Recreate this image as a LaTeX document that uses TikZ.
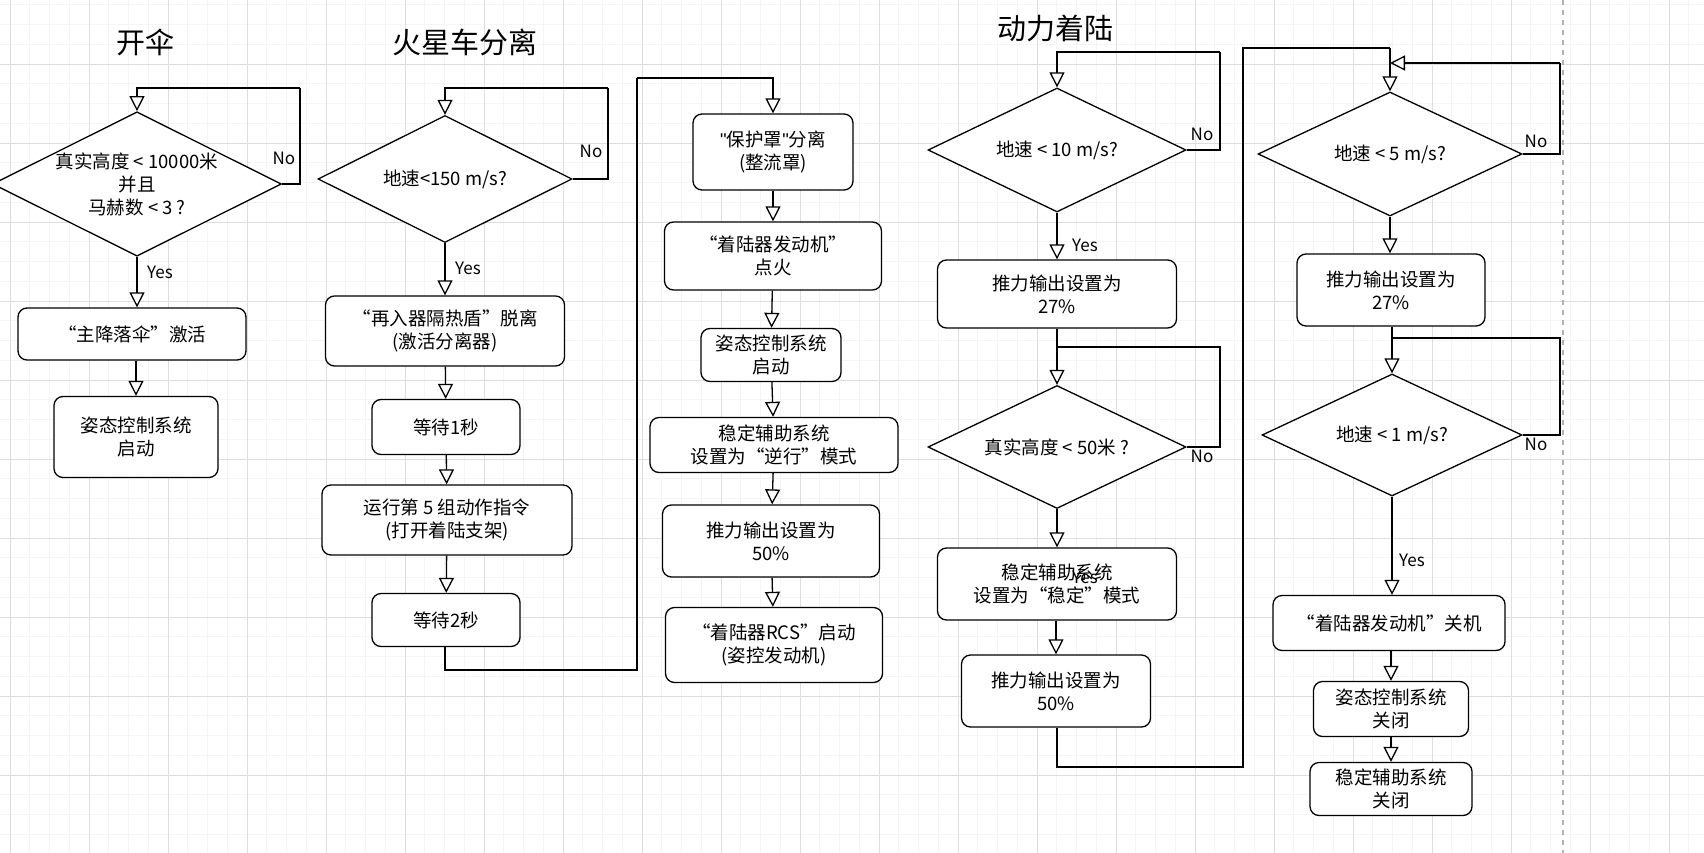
\documentclass[tikz,border=0pt]{standalone}
\usepackage{fontspec}
\setmainfont{Noto Sans CJK SC}
\newfontfamily\latq{Liberation Sans}
\usetikzlibrary{arrows.meta,shapes.geometric}
\begin{document}
\begin{tikzpicture}[x=1pt,y=-1pt,
  box/.style={draw,line width=1.3pt,rounded corners=9pt,fill=white,align=center,font=\fontsize{18.5}{23}\selectfont,inner sep=0pt},
  dia/.style={draw,line width=1.3pt,diamond,fill=white,align=center,font=\fontsize{18.5}{23}\selectfont,inner sep=0pt,aspect=2},
  ar/.style={line width=1.3pt,-{Triangle[open,length=15pt,width=15pt,fill=white]}},
  ln/.style={line width=1.3pt},
  lab/.style={font=\fontsize{17}{19}\selectfont},
  ttl/.style={font=\fontsize{29}{32}\selectfont}]
\useasboundingbox (0,0) rectangle (1704,853);
\fill[white] (0,0) rectangle (1704,853);
\foreach \i in {0,...,86} {\draw[black!4,line width=0.6pt] ({10+\i*19.75},0) -- ({10+\i*19.75},853);}
\foreach \i in {0,...,44} {\draw[black!4,line width=0.6pt] (0,{-15+\i*19.75}) -- (1704,{-15+\i*19.75});}
\foreach \i in {0,...,21} {\draw[black!13,line width=0.8pt] ({10+\i*79},0) -- ({10+\i*79},853);}
\foreach \i in {0,...,11} {\draw[black!13,line width=0.8pt] (0,{-15+\i*79}) -- (1704,{-15+\i*79});}
\draw[black!30,line width=1.2pt,dash pattern=on 5pt off 5pt] (1563,0) -- (1563,853);
% titles
\node[ttl] (t1) at (145,42) {开伞};
\node[ttl] (t2) at (465,42) {火星车分离};
\node[ttl] (t4) at (1055,28) {动力着陆};
% column 1
\node[dia,minimum width=254pt,minimum height=124pt] (d1) at (137,184) {真实高度 < 10000米\\并且\\马赫数 < 3 ?};
\node[box,minimum width=228pt,minimum height=52pt] (b1) at (132,334) {“主降落伞”激活};
\node[box,minimum width=164pt,minimum height=81pt] (b2) at (136,437) {姿态控制系统\\启动};
\coordinate (c1a) at (300,88);
\draw[ln] (d1.east) -| (c1a);
\draw[ar] (c1a) -| (d1.north);
\draw[ar] (d1.south) -- (b1.north -| d1.south);
\draw[ar] (b1.south -| b2.north) -- (b2.north);
\node[lab] (n1) at (284,158) {No};
\node[lab] (y1) at (160,272) {Yes};
% column 2
\node[dia,minimum width=254pt,minimum height=127pt] (d2) at (445,179) {地速<150 m/s?};
\node[box,minimum width=239pt,minimum height=70pt] (b2a) at (445,331) {“再入器隔热盾”脱离\\(激活分离器)};
\node[box,minimum width=148pt,minimum height=55pt] (b2b) at (446,427) {等待1秒};
\node[box,minimum width=250pt,minimum height=70pt] (b2c) at (447,520) {运行第 5 组动作指令\\(打开着陆支架)};
\node[box,minimum width=148pt,minimum height=53pt] (b2d) at (446,620) {等待2秒};
\coordinate (c2a) at (608,88);
\draw[ln] (d2.east) -| (c2a);
\draw[ar] (c2a) -| (d2.north);
\draw[ar] (d2.south) -- (b2a.north -| d2.south);
\draw[ar] (b2a) -- (b2b);
\draw[ar] (b2b) -- (b2c);
\draw[ar] (b2c) -- (b2d);
\node[lab] (n2) at (591,151) {No};
\node[lab] (y2) at (468,268) {Yes};
% column 3
\node[box,minimum width=160pt,minimum height=76pt] (b3a) at (773,152) {{\latq\char34}保护罩{\latq\char34}分离\\(整流罩)};
\node[box,minimum width=217pt,minimum height=68pt] (b3b) at (773,256) {“着陆器发动机”\\点火};
\node[box,minimum width=140pt,minimum height=53pt] (b3c) at (771,355) {姿态控制系统\\启动};
\node[box,minimum width=248pt,minimum height=55pt] (b3d) at (774,445) {稳定辅助系统\\设置为“逆行”模式};
\node[box,minimum width=217pt,minimum height=72pt] (b3e) at (771,541) {推力输出设置为\\50\%};
\node[box,minimum width=217pt,minimum height=75pt] (b3f) at (774,645) {“着陆器RCS”启动\\(姿控发动机)};
\coordinate (c2b) at (445,670);
\coordinate (c2c) at (637,670);
\coordinate (c2d) at (637,78);
\draw[ln] (b2d.south -| c2b) -- (c2b) -- (c2c) -- (c2d);
\draw[ar] (c2d) -| (b3a.north);
\draw[ar] (b3a) -- (b3b);
\draw[ar] (b3b) -- (b3c);
\draw[ar] (b3c) -- (b3d);
\draw[ar] (b3d) -- (b3e);
\draw[ar] (b3e) -- (b3f);
% column 4
\node[dia,minimum width=258pt,minimum height=124pt] (d4a) at (1057,150) {地速 < 10 m/s?};
\node[box,minimum width=239pt,minimum height=68pt] (b4b) at (1057,294) {推力输出设置为\\27\%};
\node[dia,minimum width=258pt,minimum height=123pt] (d4c) at (1057,447) {真实高度 < 50米 ?};
\node[box,minimum width=239pt,minimum height=72pt] (b4d) at (1057,584) {稳定辅助系统\\设置为“稳定”模式};
\node[box,minimum width=189pt,minimum height=72pt] (b4e) at (1056,691) {推力输出设置为\\50\%};
\coordinate (c4a) at (1220,52);
\draw[ln] (d4a.east) -| (c4a);
\draw[ar] (c4a) -| (d4a.north);
\draw[ar] (d4a.south) -- (b4b.north -| d4a.south);
\coordinate (c4b) at (1220,347);
\coordinate (c4c) at (1057,347);
\draw[ln] (d4c.east) -| (c4b) -- (c4c);
\draw[ar] (b4b.south -| d4c.north) -- (d4c.north);
\draw[ar] (d4c.south) -- (b4d.north -| d4c.south);
\draw[ar] (b4d.south -| b4e.north) -- (b4e.north);
\node[lab] (n4a) at (1202,134) {No};
\node[lab] (y4a) at (1085,245) {Yes};
\node[lab] (n4c) at (1202,456) {No};
\node[lab] (y4c) at (1085,577) {Yes};
% column 5
\node[dia,minimum width=264pt,minimum height=124pt] (d5a) at (1390,154) {地速 < 5 m/s?};
\node[box,minimum width=188pt,minimum height=72pt] (b5b) at (1391,290) {推力输出设置为\\27\%};
\node[dia,minimum width=260pt,minimum height=122pt] (d5c) at (1392,435) {地速 < 1 m/s?};
\node[box,minimum width=232pt,minimum height=55pt] (b5d) at (1389,623) {“着陆器发动机”关机};
\node[box,minimum width=155pt,minimum height=55pt] (b5e) at (1391,709) {姿态控制系统\\关闭};
\node[box,minimum width=162pt,minimum height=53pt] (b5f) at (1391,789) {稳定辅助系统\\关闭};
\coordinate (c4d) at (1057,767);
\coordinate (c4e) at (1243,767);
\coordinate (c4f) at (1243,48);
\coordinate (c5a) at (1390,48);
\draw[ln] (b4e.south -| c4d) -- (c4d) -- (c4e) -- (c4f) -- (c5a);
\draw[ar] (c5a) -- (d5a.north);
\coordinate (c5b) at (1560,63);
\coordinate (c5c) at (1390,63);
\draw[ln] (d5a.east) -| (c5b);
\draw[ar] (c5b) -- (c5c);
\draw[ar] (d5a.south) -- (b5b.north -| d5a.south);
\draw[ar] (b5b.south -| d5c.north) -- (d5c.north);
\coordinate (c5d) at (1560,338);
\coordinate (c5e) at (1392,338);
\draw[ln] (d5c.east) -| (c5d) -- (c5e);
\draw[ar] (d5c.south) -- (b5d.north -| d5c.south);
\draw[ar] (b5d.south -| b5e.north) -- (b5e.north);
\draw[ar] (b5e.south -| b5f.north) -- (b5f.north);
\node[lab] (n5a) at (1536,141) {No};
\node[lab] (n5c) at (1536,444) {No};
\node[lab] (y5c) at (1412,560) {Yes};
\end{tikzpicture}
\end{document}
